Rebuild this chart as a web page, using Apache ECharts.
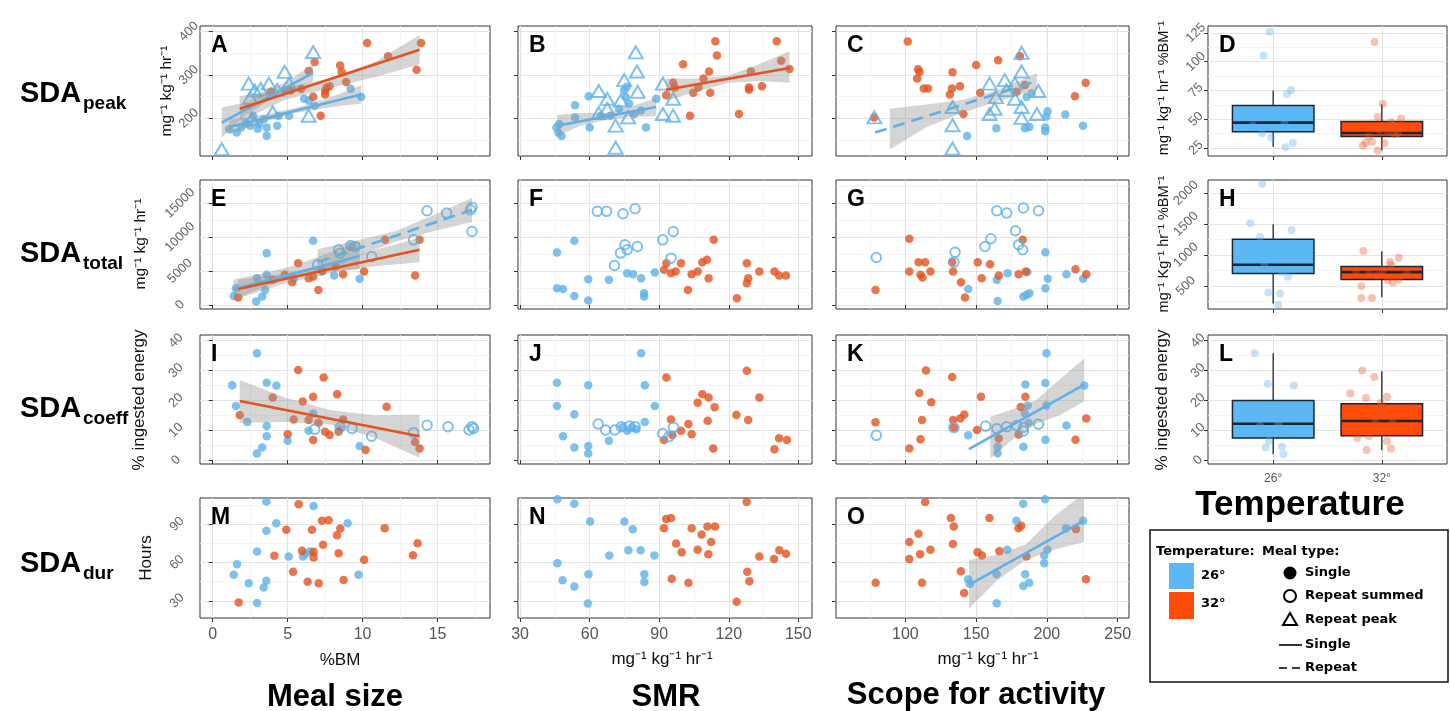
<!DOCTYPE html>
<html><head><meta charset="utf-8">
<script src="https://cdn.jsdelivr.net/npm/echarts@6/dist/echarts.min.js"></script>
<style>html,body{margin:0;padding:0;background:#fff}#c{width:1450px;height:711px}</style>
</head><body><div id="c"></div>
<script>
// ---------------- DATA ----------------
// axis ticks
const xTicks = [[0,5,10,15],[30,60,90,120,150],[100,150,200,250]];
const xMinor = [[2.5,7.5,12.5,17.5],[45,75,105,135],[75,125,175,225]];
const xRange = [[-0.85,18.5],[29.1,155.9],[51,258]];
const yTicks = [[200,300,400],[0,5000,10000,15000],[0,10,20,30,40],[30,60,90]];
const yMinor = [[150,250,350],[2500,7500,12500,17500],[5,15,25,35],[45,75,105]];
const yRange = [[113,413],[-600,18400],[-1.3,41.9],[16.5,110.5]];
const boxCats = ['26°','32°'];
const boxYTicks = [[25,50,75,100,125],[500,1000,1500,2000],[0,10,20,30,40]];
const boxYMinor = [[37.5,62.5,87.5,112.5],[250,750,1250,1750],[5,15,25,35]];
const boxYRange = [[18,131],[127,2211],[-1.3,41.9]];

// Panel A: SDA peak vs meal size
const A_b_single = [[1.1,175],[1.6,167],[1.9,179],[2.2,190],[2.5,183],[2.7,206],[3.0,176],[3.1,187],[3.4,198],[3.6,160],[3.6,179],[4.3,183],[4.4,206],[5.1,206],[6.1,245],[6.4,241],[6.8,229],[9.2,268],[9.9,250]];
const A_b_peak = [[0.6,129],[2.4,280],[2.8,264],[3.2,268],[3.75,280],[2.5,247],[4.3,266],[4.8,307],[5.1,280],[6.7,353],[6.4,206],[4.0,214],[2.6,198]];
const A_o_single = [[10.3,374],[13.9,374],[13.6,312],[11.7,343],[8.5,322],[8.6,307],[8.9,284],[6.8,330],[6.4,309],[6.7,250],[7.5,263],[7.6,271],[7.8,274],[7.2,206],[5.9,268],[5.2,264],[4.8,264],[3.9,262],[7.5,255]];
const A_fit_b_single = [[1.1,180],[9.9,255]];
const A_band_b_single = [[1.1,163,197],[3.5,193,209],[5.5,212,224],[7.7,225,246],[9.9,234,276]];
const A_fit_b_peak = [[0.6,190],[6.7,305]];
const A_band_b_peak = [[0.6,155,225],[2.1,205,236],[3.6,238,262],[5.2,262,290],[6.7,285,325]];
const A_fit_o = [[1.8,222],[13.8,358]];
const A_band_o = [[1.8,193,251],[4.8,242,270],[7.8,270,292],[10.8,295,330],[13.8,325,392]];

// Panel B: SDA peak vs SMR
const B_b_single = [[45.7,179],[46.5,167],[47.9,159],[46.9,187],[53.7,230],[53.7,202],[59.6,251],[60,179],[64.7,206],[69,206],[72.7,222],[74.9,265],[75.6,249],[77,234],[79.2,210],[82.1,218],[84.3,179],[88.7,245],[76,273]];
const B_b_peak = [[79.9,352],[80.4,308],[74.9,288],[63.9,263],[67.6,245],[80.7,261],[67.6,222],[63.9,212],[71.2,183],[76.6,202],[71.2,132],[91.6,280],[96,245],[91.6,210],[96,206],[73.4,241]];
const B_o_single = [[114.2,378],[140.7,378],[114.9,345],[100.3,325],[142.6,333],[146.2,314],[111.5,308],[109.1,292],[129.5,308],[106.9,271],[104.7,259],[112,259],[128.7,271],[128.7,266],[134.3,274],[96.7,271],[93,253],[103.3,206],[124.4,210],[96,282]];
const B_fit_b = [[46,183],[88.7,226]];
const B_band_b = [[46,160,208],[56,182,212],[67,196,213],[78,203,228],[88.7,205,247]];
const B_fit_o = [[93,266],[146.2,316]];
const B_band_o = [[93,240,292],[106,262,291],[120,282,299],[133,286,325],[146.2,282,355]];

// Panel C: SDA peak vs scope
const C_o_single = [[101.7,377],[109,313],[110,307],[108.3,292],[113,269],[116,269],[133.3,306],[132.9,269],[131.4,255],[138.6,274],[150,323],[152.9,259],[165.5,334],[181,343],[184.5,277],[178.6,261],[141,210],[219.8,251],[227.4,282],[78,202]];
const C_b_single = [[143.6,159],[164.3,177],[184.5,177],[187.6,180],[198.8,179],[198.8,170],[200.5,216],[199.5,204],[213,209],[225.5,183],[185.7,249],[189.3,257]];
const C_b_peak = [[78.1,202],[133.3,226],[133.3,184],[133.3,130],[159.5,280],[163,222],[159.5,210],[170.2,288],[171.4,265],[177.4,280],[182.1,351],[182.1,308],[182.1,226],[182.1,201],[192.9,210],[194,263],[177.4,245],[164,249]];
const C_fit_b = [[78.6,167],[192.9,286]];
const C_band_b = [[89,128,222],[115,180,232],[140,212,242],[166,240,266],[192.9,266,304]];

// Panel D: box (low whisker, Q1, median, Q3, high whisker)
const D_box = [[1,26,39,47,62,75],[2,23,35,38,48,63]];
const D_pts_26 = [[-0.034,125.9],[-0.089,105.1],[0.166,75.3],[0.126,71.9],[0.181,29.3],[0.113,25.6],[-0.101,37.8],[-0.018,34.1],[-0.187,44.6],[0.104,47.4]];
const D_pts_32 = [[-0.067,117],[0.009,63.4],[-0.037,52],[0.178,50.6],[0.086,47.4],[0.101,44.6],[-0.083,41.8],[-0.021,40.6],[0.117,36.9],[-0.15,29.3],[-0.089,30.4],[0.025,29.3],[-0.037,22.7],[-0.175,27],[0.055,39.8],[0.15,38],[-0.12,35]];

// Panel E: SDA total vs meal size
const E_b_single = [[1.4,1330],[1.55,2460],[2.9,490],[3.3,1230],[3.5,2210],[3.6,7630],[3.6,4430],[2.95,3940],[6.7,9450],[9.8,3840],[5.4,3940],[8.1,4330],[7.3,4920],[9.2,8610]];
const E_b_rep = [[14.3,13870],[15.6,13530],[17.2,14020],[17.3,14370],[17.3,10820],[13.4,9590],[10.6,7130],[8.4,8120],[9.2,8760],[9.5,8610],[7.0,5900],[8.5,7630]];
const E_o_single = [[1.7,1080],[5.7,6150],[5.3,3350],[4.8,4430],[6.4,3940],[6.7,4180],[7.05,2210],[7.3,5020],[8.7,4530],[10.1,4920],[11.5,9590],[13.8,9590],[13.5,4330],[8.2,5660],[4.0,3690]];
const E_fit_b_single = [[1.4,2300],[9.8,7200]];
const E_band_b_single = [[1.4,800,3800],[3.5,2700,4700],[5.6,4200,5900],[7.7,5000,7600],[9.8,5300,9300]];
const E_fit_b_rep = [[7.0,6300],[17.3,14000]];
const E_band_b_rep = [[7.0,4500,8200],[9.6,7100,9500],[12.2,9300,10900],[14.8,10900,13300],[17.3,12200,15800]];
const E_fit_o = [[1.7,2360],[13.8,8120]];
const E_band_o = [[1.7,1000,3700],[4.7,3100,4600],[7.7,4600,5900],[10.8,5700,8100],[13.8,6300,9900]];

// Panel F: SDA total vs SMR
const F_b_single = [[45.9,7720],[53.4,9450],[45.9,2460],[48.5,2360],[53.4,1330],[59.4,3790],[59.4,640],[68.3,3690],[76.2,4670],[78.8,4530],[82.2,3940],[83.5,1720],[83.5,1230],[88.1,4770]];
const F_b_rep = [[63.3,13780],[67.3,13780],[74.4,13430],[79.6,14170],[91.5,9590],[96.1,10820],[80.6,8610],[75.2,8860],[76.2,8120],[73.3,7630],[70.7,5810],[95.1,6890]];
const F_o_single = [[92.1,5170],[93.1,6150],[95.1,4670],[97.1,4920],[99.4,6150],[102.4,2210],[104,4530],[106.6,4920],[108.6,6300],[110.6,6640],[111.3,3940],[113.5,9590],[123.5,980],[127.8,6150],[128.4,3940],[127.8,3200],[133.2,4920],[139.7,4920],[141.7,4330],[144.7,4330]];

// Panel G: SDA total vs scope
const G_b_rep = [[79.5,6990],[135.1,7770],[134.3,6300],[156.2,8610],[160.4,9740],[164.6,13870],[171.6,13530],[183.4,14270],[194.1,13870],[177.8,10920],[180,8860],[182.9,8120]];
const G_b_single = [[164.6,3690],[172.2,4670],[144.4,2360],[165.2,590],[183.4,1230],[185.7,1480],[187.6,1720],[198.9,2460],[200.6,3840],[198.9,7770],[213.8,4530],[225.6,3840],[186.2,4820]];
const G_o_single = [[102.8,9740],[78.9,2210],[102.8,4920],[109.3,6300],[114,6300],[110.7,4430],[112.1,4040],[117.7,4920],[133.1,6300],[133.7,4920],[139.3,3350],[142.1,1080],[151.1,6300],[153.9,3940],[159.8,6000],[166,4330],[180,4530],[182.9,9590],[185.1,4920],[220.2,5270],[227.8,4530]];

// Panel H: box
const H_box = [[1,214,701,843,1253,1497],[2,317,604,722,815,1060]];
const H_pts_26 = [[-0.10,2152],[-0.21,1513],[0.17,1404],[-0.12,1296],[-0.045,392],[0.064,376],[0.046,197],[0.136,646],[-0.08,836],[0.08,728]];
const H_pts_32 = [[-0.17,1063],[0.156,955],[0.076,890],[0.084,836],[-0.116,700],[-0.189,500],[-0.189,305],[-0.09,305],[0.1,554],[0.156,609],[0.011,755],[-0.24,739],[0.23,700],[-0.04,674],[0.055,592]];

// Panel I: SDA coeff vs meal size
const I_b_single = [[1.3,25.1],[1.55,18.1],[2.3,12.8],[2.95,35.8],[2.95,2.2],[3.3,4.2],[3.6,25.9],[4.25,24.9],[3.6,11.4],[3.6,8.0],[5.0,6.5],[6.4,9.8],[6.7,15.6],[9.8,4.7],[8.5,10.6]];
const I_b_rep = [[6.8,10.3],[8.5,11.0],[9.3,10.6],[10.6,8.0],[13.4,9.2],[14.3,11.7],[15.7,11.2],[17.1,10.1],[17.3,11.2],[17.4,10.6]];
const I_o_single = [[1.8,15.1],[4.0,21.0],[5.4,13.6],[5.7,30.2],[6.0,19.6],[6.4,13.4],[6.7,6.7],[6.7,21.2],[7.05,12.5],[7.4,27.7],[7.5,9.5],[7.8,8.4],[5.0,8.7],[8.3,22.1],[8.7,13.6],[10.2,3.4],[11.6,17.9],[13.5,6.1],[13.8,3.9],[8.4,9.5]];
const I_fit_o = [[1.8,19.8],[13.8,8.0]];
const I_band_o = [[1.8,12.5,26.8],[4.8,12.8,21.0],[7.8,12.0,16.8],[10.8,7.5,15.0],[13.8,0.8,15.2]];

// Panel J: SDA coeff vs SMR
const J_b_single = [[45.9,25.9],[45.9,18.1],[48.5,8.0],[53.4,15.4],[53.4,4.2],[59.4,25.1],[59.4,4.7],[59.4,2.2],[68.3,6.5],[82.2,35.8],[83.8,25.1],[83.8,12.8],[88.1,18.1],[74.2,11.0],[76.2,9.8],[78.2,11],[80.2,10.3]];
const J_b_rep = [[63.7,12.1],[66.9,10.1],[70.9,10.1],[73.7,11.2],[77.2,11.4],[79.6,11.2],[91.5,8.9],[96.1,11.0],[94.1,7.8]];
const J_o_single = [[93.1,27.7],[92.1,6.7],[95.1,13.6],[95.7,8.4],[99.4,9.8],[102.6,12.1],[104,8.7],[106.6,19.2],[108.6,22.1],[111.3,21.0],[110.9,13.2],[113.9,17.7],[113.3,3.9],[123.3,15.1],[127.8,29.9],[128.4,13.4],[133.2,21.0],[139.7,3.6],[141.7,7.3],[145.1,6.7]];

// Panel K: SDA coeff vs scope
const K_o_single = [[78.9,12.7],[102.8,3.9],[110.7,7.0],[111.8,13.4],[109.8,22.5],[114.6,30.0],[118.3,19.4],[133.1,27.8],[133.7,13.4],[138.8,13.9],[141.6,15.3],[134.3,10.9],[150.6,10.1],[153.4,21.2],[166,7.2],[180,8.6],[181.5,17.8],[184.8,21.2],[220.2,6.8],[227.8,13.9]];
const K_b_single = [[144.4,8.3],[165.2,4.5],[165.2,2.3],[183.4,4.5],[198.9,6.8],[199.7,35.8],[184.8,25.3],[198.9,25.8],[213.8,11.6],[226.4,25.0],[186.5,18.3],[199.7,18.3],[184.3,15.8],[187.1,12.5]];
const K_b_rep = [[79.5,8.3],[134.3,10.9],[156.7,11.4],[164.6,10.5],[171.6,11.2],[178.7,11.6],[183.4,10.9],[194.1,12.0],[183.4,9.75]];
const K_fit_b = [[144.9,3.7],[226.4,25.3]];
const K_band_b = [[160,0.5,14.5],[176,7,17],[192,12,20],[209,15,27],[226.4,19.7,34.1]];

// Panel L: box
const L_box = [[1,2,7.4,12.2,20,35.8],[2,3.3,8.2,13.1,18.9,29.8]];
const L_pts_26 = [[-0.17,35.8],[-0.05,25.6],[0.19,25.0],[-0.07,4.2],[0.08,4.5],[0.095,2.0],[-0.04,6.4],[-0.12,11.4],[0.05,12]];
const L_pts_32 = [[-0.18,30.0],[-0.07,27.8],[-0.29,22.3],[-0.145,20.8],[0.047,21.2],[-0.007,19.2],[-0.225,7.5],[0.047,6.4],[-0.14,3.4],[0.084,3.9],[-0.03,10.3],[-0.06,13.6],[0.1,12.5],[-0.12,8.1],[0.0,15.6]];

// Panel M: SDA duration vs meal size
const M_b = [[3.58,107.7],[6.73,104.3],[4.24,90.8],[9.0,90.8],[3.58,84.8],[2.96,68.6],[5.07,64.7],[6.02,64.7],[6.47,68.6],[1.62,58.7],[1.4,50.3],[9.73,50.3],[2.4,43.8],[3.58,45.6],[3.4,40.4],[2.96,28.2],[6.18,66.6]];
const M_o = [[1.73,28.7],[4.11,65.2],[4.91,85.6],[5.36,52.7],[5.73,105.7],[5.96,69.1],[6.33,44.9],[6.62,85.6],[6.73,68.3],[6.73,63.9],[7.07,43.8],[7.29,92.6],[7.36,73.8],[7.73,93.1],[8.29,81.4],[8.51,86.6],[8.4,67.3],[8.73,46.2],[10.1,62.1],[11.47,86.9],[13.36,65.7],[13.67,75.1]];

// Panel N: SDA duration vs SMR
const N_b = [[46.1,109.5],[53.4,106],[60.2,92.1],[75,92.1],[78.6,86],[68.5,65.5],[76.7,69.5],[82,69.5],[87.9,65.5],[46.1,59.3],[48.3,46],[53.4,41.2],[59.5,50.8],[59.2,27.9],[83.6,50.8],[83.6,44.7]];
const N_o = [[127.7,107.3],[93,94],[95.1,94.8],[92.1,86.8],[104,86.8],[110.8,88.1],[114.1,88.1],[108.3,82],[112.4,76.1],[97.3,74.8],[99.7,68.1],[106.6,70],[111.2,66.5],[133.2,64.7],[139.5,62.8],[141.8,69.5],[144.7,66.8],[128,52.7],[128.9,45.2],[95.4,47.3],[102.6,44.1],[123.4,29.2]];

// Panel O: SDA duration vs scope
const O_o = [[114,107.3],[79,44.1],[102.8,76.1],[102.8,62.8],[109.3,82.5],[110.4,66.5],[111.8,44.1],[117.7,70],[132.2,94.8],[134.2,88.1],[133.6,74.5],[139.2,53.2],[141.5,36.1],[151,68.1],[154.1,65.5],[159.4,94.8],[166.4,68.7],[179.9,86.8],[181.9,88.7],[185.5,64.7],[220.5,86],[227.6,46.8]];
const O_b = [[183.3,106],[198.7,109.5],[178.5,92.7],[213.5,86.8],[225.6,92.7],[172,70],[200.4,70],[198.1,65.5],[198.1,59.3],[144.3,46.8],[145.4,43.3],[164.5,50.8],[184.7,50.8],[187.5,44.1],[183.3,41.5],[164.5,28.1]];
const O_fit_b = [[144.9,42.5],[226.2,92.7]];
const O_band_b = [[145,24,62],[165,46,66],[185,62,74],[205,70,96],[226.2,76,114]];

// ---------------- STYLE / LAYOUT ----------------
const BLUE='#5eb1e8', ORANGE='#e2531e';
const BLUE_A='rgba(94,177,232,0.45)', ORANGE_A='rgba(232,90,40,0.45)';
const BOX_BLUE='#5cb7f5', BOX_RED='#fe4b08';
const FONT='"Liberation Sans", Arial, Helvetica, sans-serif';
const LFONT='"DejaVu Sans", Verdana, sans-serif';
const colL=[200,518,836,1208], colR=[490,812,1129,1447];
const rowT=[26,180,335,498], rowB=[156,309,464,618];

const grid=[], xAxis=[], yAxis=[], series=[], graphic=[];

function addGrid(r,c){
  grid.push({left:colL[c],top:rowT[r],width:colR[c]-colL[c],height:rowB[r]-rowT[r],show:true,backgroundColor:'#fff',borderColor:'#333',borderWidth:1,containLabel:false});
  return grid.length-1;
}
function addX(gi,range,major,minor,lab){
  xAxis.push({type:'value',gridIndex:gi,min:range[0],max:range[1],position:'bottom',
    axisLine:{show:false},
    axisTick:{show:true,customValues:major,length:4,lineStyle:{color:'#333',width:1}},
    axisLabel:{show:!!lab,customValues:major,color:'#555',fontSize:lab?lab.size:12,fontFamily:FONT,margin:lab?lab.margin:8,
      formatter:(lab&&lab.fmt)?lab.fmt:(v=>String(v))},
    splitLine:{show:true,lineStyle:{color:'#e3e3e3',width:1.1}}});
  const xi=xAxis.length-1;
  if(minor){
    xAxis.push({type:'value',gridIndex:gi,min:range[0],max:range[1],position:'top',
      axisLine:{show:false},axisTick:{show:false,customValues:minor},axisLabel:{show:false,customValues:minor},
      splitLine:{show:true,lineStyle:{color:'#f1f1f1',width:0.8}}});
  }
  return xi;
}
function addY(gi,range,major,minor,lab){
  yAxis.push({type:'value',gridIndex:gi,min:range[0],max:range[1],position:'left',
    axisLine:{show:false},
    axisTick:{show:true,customValues:major,length:4,lineStyle:{color:'#333',width:1}},
    axisLabel:{show:!!lab,customValues:major,rotate:45,align:'center',verticalAlign:'middle',color:'#666',fontSize:13,fontFamily:FONT,
      margin:lab?lab.margin:8,formatter:v=>String(v)},
    splitLine:{show:true,lineStyle:{color:'#e3e3e3',width:1.1}}});
  const yi=yAxis.length-1;
  if(minor){
    yAxis.push({type:'value',gridIndex:gi,min:range[0],max:range[1],position:'right',
      axisLine:{show:false},axisTick:{show:false,customValues:minor},axisLabel:{show:false,customValues:minor},
      splitLine:{show:true,lineStyle:{color:'#f1f1f1',width:0.8}}});
  }
  return yi;
}
function pts(xi,yi,data,kind,color){
  const s={type:'scatter',xAxisIndex:xi,yAxisIndex:yi,data:data,z:2,silent:true};
  if(kind==='fill'){s.symbol='circle';s.symbolSize=8.5;s.itemStyle={color:color};}
  else if(kind==='open'){s.symbol='circle';s.symbolSize=9.5;s.itemStyle={color:'rgba(0,0,0,0)',borderColor:color,borderWidth:2};}
  else {s.symbol='triangle';s.symbolSize=[14,12];s.itemStyle={color:'rgba(0,0,0,0)',borderColor:color,borderWidth:2};}
  series.push(s);
}
function fit(xi,yi,data,color,dashed){
  series.push({type:'line',xAxisIndex:xi,yAxisIndex:yi,data:data,symbol:'none',z:4,silent:true,clip:true,
    lineStyle:{color:color,width:2.6,type:dashed?[12,7]:'solid',cap:'butt'}});
}
function band(xi,yi,b){
  series.push({type:'custom',xAxisIndex:xi,yAxisIndex:yi,clip:true,z:3,silent:true,data:[[b[0][0],b[0][1]]],
    renderItem:function(p,api){
      const top=b.map(d=>api.coord([d[0],d[2]]));
      const bot=b.slice().reverse().map(d=>api.coord([d[0],d[1]]));
      return {type:'polygon',shape:{points:top.concat(bot)},style:{fill:'rgba(150,150,150,0.4)'}};
    }});
}
function boxes(xi,yi,stats){
  const fills=[BOX_BLUE,BOX_RED];
  series.push({type:'custom',xAxisIndex:xi,yAxisIndex:yi,z:2,silent:true,data:stats,
    renderItem:function(p,api){
      const x=api.value(0),lo=api.value(1),q1=api.value(2),md=api.value(3),q3=api.value(4),hi=api.value(5);
      const hw=0.375, st='#1c2633';
      const a=api.coord([x-hw,q3]), b=api.coord([x+hw,q1]);
      const c1=api.coord([x,hi]), c2=api.coord([x,q3]), c3=api.coord([x,q1]), c4=api.coord([x,lo]);
      const m1=api.coord([x-hw,md]), m2=api.coord([x+hw,md]);
      return {type:'group',children:[
        {type:'line',shape:{x1:c1[0],y1:c1[1],x2:c2[0],y2:c2[1]},style:{stroke:st,lineWidth:1.3}},
        {type:'line',shape:{x1:c3[0],y1:c3[1],x2:c4[0],y2:c4[1]},style:{stroke:st,lineWidth:1.3}},
        {type:'rect',shape:{x:a[0],y:a[1],width:b[0]-a[0],height:b[1]-a[1]},style:{fill:fills[p.dataIndex],stroke:st,lineWidth:1.5}},
        {type:'line',shape:{x1:m1[0],y1:m1[1],x2:m2[0],y2:m2[1]},style:{stroke:st,lineWidth:2.6}}
      ]};
    }});
}
function jitter(xi,yi,data,cat,color){
  series.push({type:'scatter',xAxisIndex:xi,yAxisIndex:yi,z:3,silent:true,symbol:'circle',symbolSize:8,
    itemStyle:{color:color},data:data.map(d=>[cat+d[0],d[1]])});
}

// ---------------- BUILD PANELS ----------------
const yLabMargin=[11,20,24,23];
const xLab={size:16,margin:9};
function scatterPanel(r,c){
  const gi=addGrid(r,c);
  const xi=addX(gi,xRange[c],xTicks[c],xMinor[c],r===3?xLab:null);
  const yi=addY(gi,yRange[r],yTicks[r],yMinor[r],c===0?{margin:yLabMargin[r]}:null);
  return [xi,yi];
}
let ax;
// Row 1
ax=scatterPanel(0,0);
pts(ax[0],ax[1],A_b_single,'fill',BLUE); pts(ax[0],ax[1],A_o_single,'fill',ORANGE); pts(ax[0],ax[1],A_b_peak,'tri',BLUE);
band(ax[0],ax[1],A_band_b_single); band(ax[0],ax[1],A_band_b_peak); band(ax[0],ax[1],A_band_o);
fit(ax[0],ax[1],A_fit_b_single,BLUE,false); fit(ax[0],ax[1],A_fit_b_peak,BLUE,false); fit(ax[0],ax[1],A_fit_o,ORANGE,false);
ax=scatterPanel(0,1);
pts(ax[0],ax[1],B_b_single,'fill',BLUE); pts(ax[0],ax[1],B_o_single,'fill',ORANGE); pts(ax[0],ax[1],B_b_peak,'tri',BLUE);
band(ax[0],ax[1],B_band_b); band(ax[0],ax[1],B_band_o);
fit(ax[0],ax[1],B_fit_b,BLUE,false); fit(ax[0],ax[1],B_fit_o,ORANGE,false);
ax=scatterPanel(0,2);
pts(ax[0],ax[1],C_b_single,'fill',BLUE); pts(ax[0],ax[1],C_o_single,'fill',ORANGE); pts(ax[0],ax[1],C_b_peak,'tri',BLUE);
band(ax[0],ax[1],C_band_b); fit(ax[0],ax[1],C_fit_b,BLUE,true);
// Row 2
ax=scatterPanel(1,0);
pts(ax[0],ax[1],E_b_single,'fill',BLUE); pts(ax[0],ax[1],E_o_single,'fill',ORANGE); pts(ax[0],ax[1],E_b_rep,'open',BLUE);
band(ax[0],ax[1],E_band_b_single); band(ax[0],ax[1],E_band_b_rep); band(ax[0],ax[1],E_band_o);
fit(ax[0],ax[1],E_fit_b_single,BLUE,false); fit(ax[0],ax[1],E_fit_b_rep,BLUE,true); fit(ax[0],ax[1],E_fit_o,ORANGE,false);
ax=scatterPanel(1,1);
pts(ax[0],ax[1],F_b_single,'fill',BLUE); pts(ax[0],ax[1],F_o_single,'fill',ORANGE); pts(ax[0],ax[1],F_b_rep,'open',BLUE);
ax=scatterPanel(1,2);
pts(ax[0],ax[1],G_b_single,'fill',BLUE); pts(ax[0],ax[1],G_o_single,'fill',ORANGE); pts(ax[0],ax[1],G_b_rep,'open',BLUE);
// Row 3
ax=scatterPanel(2,0);
pts(ax[0],ax[1],I_b_single,'fill',BLUE); pts(ax[0],ax[1],I_o_single,'fill',ORANGE); pts(ax[0],ax[1],I_b_rep,'open',BLUE);
band(ax[0],ax[1],I_band_o); fit(ax[0],ax[1],I_fit_o,ORANGE,false);
ax=scatterPanel(2,1);
pts(ax[0],ax[1],J_b_single,'fill',BLUE); pts(ax[0],ax[1],J_o_single,'fill',ORANGE); pts(ax[0],ax[1],J_b_rep,'open',BLUE);
ax=scatterPanel(2,2);
pts(ax[0],ax[1],K_b_single,'fill',BLUE); pts(ax[0],ax[1],K_o_single,'fill',ORANGE); pts(ax[0],ax[1],K_b_rep,'open',BLUE);
band(ax[0],ax[1],K_band_b); fit(ax[0],ax[1],K_fit_b,BLUE,false);
// Row 4
ax=scatterPanel(3,0);
pts(ax[0],ax[1],M_b,'fill',BLUE); pts(ax[0],ax[1],M_o,'fill',ORANGE);
ax=scatterPanel(3,1);
pts(ax[0],ax[1],N_b,'fill',BLUE); pts(ax[0],ax[1],N_o,'fill',ORANGE);
ax=scatterPanel(3,2);
pts(ax[0],ax[1],O_b,'fill',BLUE); pts(ax[0],ax[1],O_o,'fill',ORANGE);
band(ax[0],ax[1],O_band_b); fit(ax[0],ax[1],O_fit_b,BLUE,false);

// Box panels
const boxSets=[[D_box,D_pts_26,D_pts_32],[H_box,H_pts_26,H_pts_32],[L_box,L_pts_26,L_pts_32]];
const boxLabMargin=[12,22,10];
boxSets.forEach((bs,r)=>{
  const gi=addGrid(r,3);
  const xi=addX(gi,[0.4,2.6],[1,2],null,r===2?{size:12,margin:9,fmt:v=>boxCats[Math.round(v)-1]}:null);
  const yi=addY(gi,boxYRange[r],boxYTicks[r],boxYMinor[r],{margin:boxLabMargin[r]});
  boxes(xi,yi,bs[0]);
  jitter(xi,yi,bs[1],1,BLUE_A);
  jitter(xi,yi,bs[2],2,ORANGE_A);
});

// ---------------- TEXT / DECORATION ----------------
function txt(text,x,y,opt){
  opt=opt||{};
  const el={type:'text',x:x,y:y,z:100,silent:true,rotation:opt.rot||0,
    style:{text:text,fill:opt.color||'#000',font:(opt.weight||'normal')+' '+(opt.size||16)+'px '+(opt.family||FONT),
      align:opt.align||'center',verticalAlign:opt.va||'middle',textAlign:opt.align||'center',textVerticalAlign:opt.va||'middle'}};
  graphic.push(el);
}
// panel letters
const letters=[['A','B','C','D'],['E','F','G','H'],['I','J','K','L'],['M','N','O']];
letters.forEach((row,r)=>row.forEach((L,c)=>{
  txt(L,colL[c]+11,rowT[r]+8,{size:23,weight:'bold',align:'left',va:'top'});
}));
// row labels
const rowSubs=['peak','total','coeff','dur'];
const rowCap=[92,252,407,562];
rowSubs.forEach((s,r)=>{
  txt('SDA',20,rowCap[r]+2,{size:29,weight:'bold',align:'left'});
  txt(s,83,rowCap[r]+12,{size:19,weight:'bold',align:'left'});
});
// y-axis names
const SUP='\u207B\u00B9';
const yNames=[['mg'+SUP+' kg'+SUP+' hr'+SUP,167,91,15.5],['mg'+SUP+' kg'+SUP+' hr'+SUP,141,244,15.5],['% ingested energy',139,400,17],['Hours',146,558,17],
  ['mg'+SUP+' kg'+SUP+' hr'+SUP+' %BM'+SUP,1164,88,14.5],['mg'+SUP+' Kg'+SUP+' hr'+SUP+' %BM'+SUP,1164,244,14.5],['% ingested energy',1162,400,17]];
yNames.forEach(n=>txt(n[0],n[1],n[2],{size:n[3],rot:Math.PI/2,color:'#111'}));
// x-axis names
txt('%BM',340,660,{size:17,color:'#111'});
txt('mg'+SUP+' kg'+SUP+' hr'+SUP,662,659,{size:17,color:'#111'});
txt('mg'+SUP+' kg'+SUP+' hr'+SUP,988,659,{size:17,color:'#111'});
// column titles
txt('Meal size',335,697,{size:31,weight:'bold'});
txt('SMR',666,697,{size:31,weight:'bold'});
txt('Scope for activity',976,695,{size:31,weight:'bold'});
txt('Temperature',1300,505,{size:35,weight:'bold'});
// legend
graphic.push({type:'rect',z:90,silent:true,shape:{x:1150,y:530,width:298,height:152},style:{fill:'#fff',stroke:'#111',lineWidth:1.5}});
txt('Temperature:',1156,552,{size:13,weight:'bold',family:LFONT,align:'left'});
txt('Meal type:',1262,552,{size:13,weight:'bold',family:LFONT,align:'left'});
graphic.push({type:'rect',z:95,silent:true,shape:{x:1169,y:563,width:25,height:26},style:{fill:BOX_BLUE}});
graphic.push({type:'rect',z:95,silent:true,shape:{x:1169,y:592,width:25,height:27},style:{fill:BOX_RED}});
txt('26°',1201,576,{size:13,weight:'bold',family:LFONT,align:'left'});
txt('32°',1201,604,{size:13,weight:'bold',family:LFONT,align:'left'});
graphic.push({type:'circle',z:95,silent:true,shape:{cx:1290,cy:573,r:6.5},style:{fill:'#000'}});
graphic.push({type:'circle',z:95,silent:true,shape:{cx:1290,cy:596,r:6},style:{fill:'none',stroke:'#000',lineWidth:2}});
graphic.push({type:'polygon',z:95,silent:true,shape:{points:[[1290,613],[1283,625],[1297,625]]},style:{fill:'none',stroke:'#000',lineWidth:2}});
graphic.push({type:'line',z:95,silent:true,shape:{x1:1279,y1:645,x2:1302,y2:645},style:{stroke:'#000',lineWidth:1.6}});
graphic.push({type:'line',z:95,silent:true,shape:{x1:1279,y1:668,x2:1302,y2:668},style:{stroke:'#000',lineWidth:1.6,lineDash:[8,5]}});
txt('Single',1305,573,{size:13,weight:'bold',family:LFONT,align:'left'});
txt('Repeat summed',1305,596,{size:13,weight:'bold',family:LFONT,align:'left'});
txt('Repeat peak',1305,620,{size:13,weight:'bold',family:LFONT,align:'left'});
txt('Single',1305,645,{size:13,weight:'bold',family:LFONT,align:'left'});
txt('Repeat',1305,668,{size:13,weight:'bold',family:LFONT,align:'left'});

const chart=echarts.init(document.getElementById('c'),null,{renderer:'canvas'});
chart.setOption({animation:false,backgroundColor:'#fff',grid:grid,xAxis:xAxis,yAxis:yAxis,series:series,graphic:graphic});
</script></body></html>
